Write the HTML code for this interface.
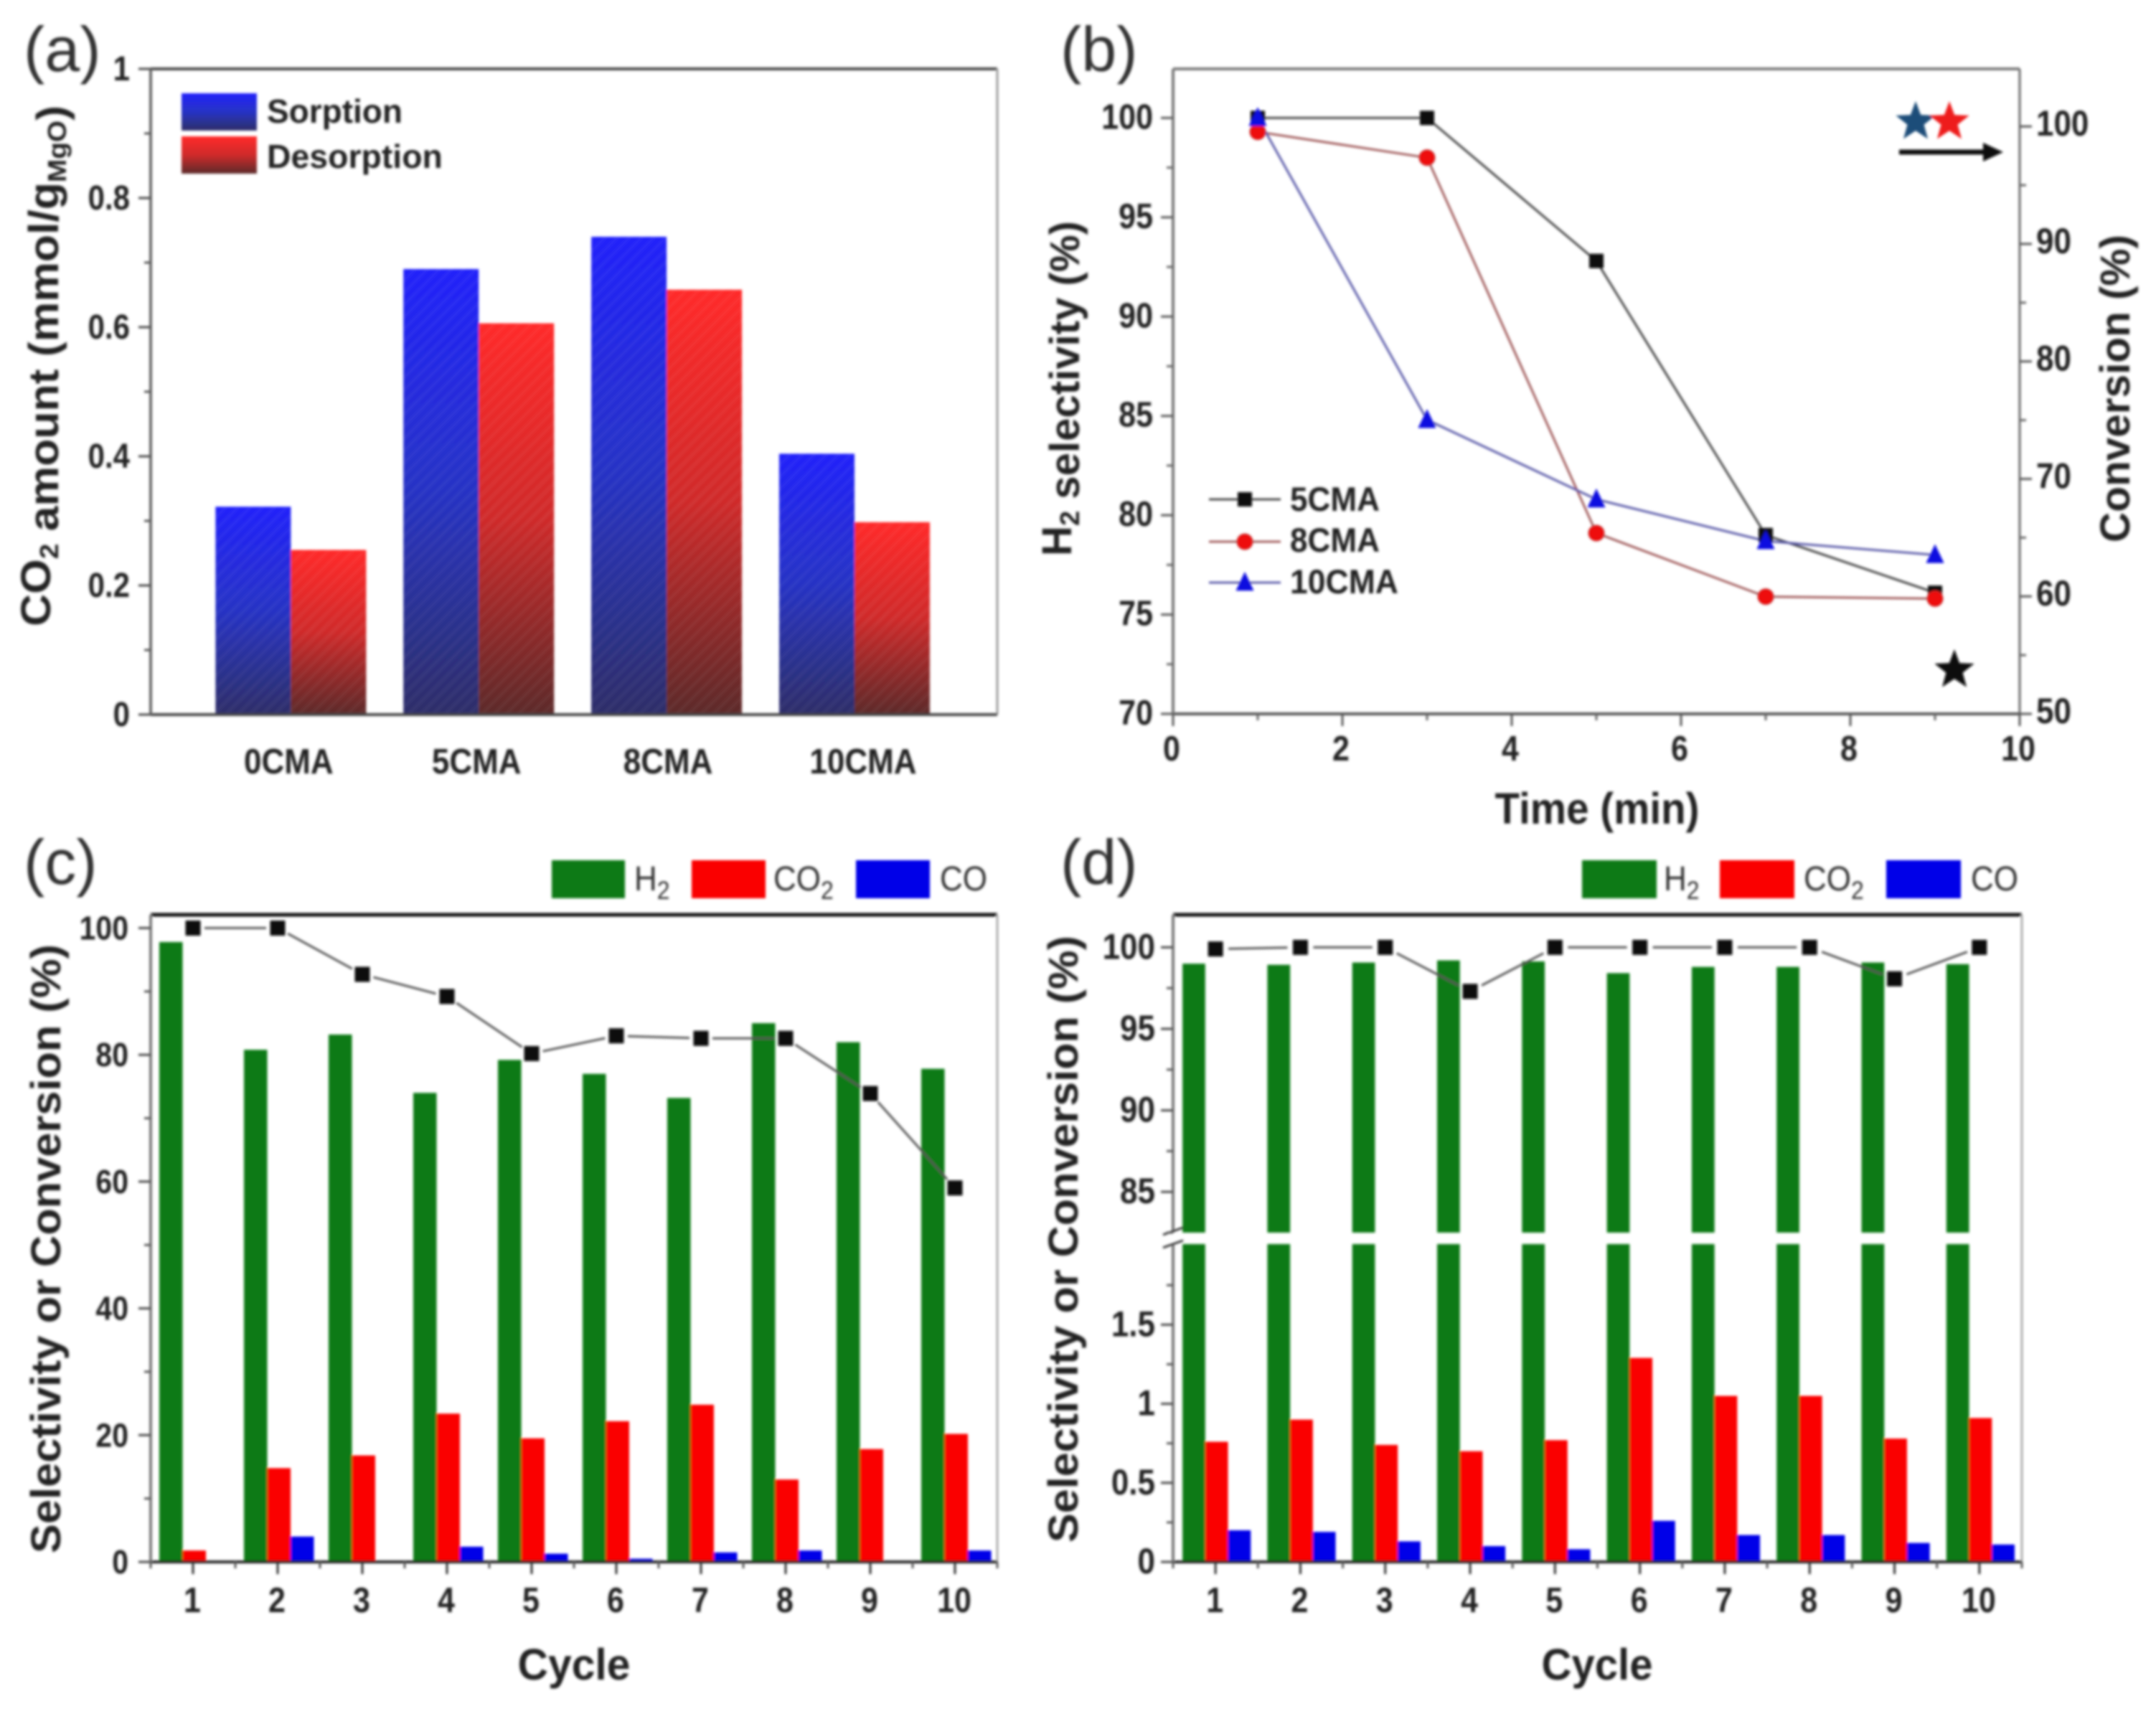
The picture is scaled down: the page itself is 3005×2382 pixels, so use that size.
<!DOCTYPE html>
<html>
<head>
<meta charset="utf-8">
<title>CO2 sorption and H2 selectivity charts</title>
<style>
html,body{margin:0;padding:0;background:#fff;width:3005px;height:2382px;overflow:hidden}
svg{display:block}
text{font-family:"Liberation Sans",sans-serif}
</style>
</head>
<body>
<svg id="figure" xmlns="http://www.w3.org/2000/svg" width="3005" height="2382" viewBox="0 0 3005 2382">
<defs>
<filter id="soft" x="0" y="0" width="100%" height="100%" filterUnits="userSpaceOnUse"><feGaussianBlur stdDeviation="1.9"/></filter>
<linearGradient id="gradBlue" x1="0" y1="0" x2="0" y2="1"><stop offset="0" stop-color="#2222fa"/><stop offset=".5" stop-color="#2733c4"/><stop offset="1" stop-color="#2e2e68"/></linearGradient>
<linearGradient id="gradRed" x1="0" y1="0" x2="0" y2="1"><stop offset="0" stop-color="#ff2a2a"/><stop offset=".5" stop-color="#cf2c2c"/><stop offset="1" stop-color="#5c2a2a"/></linearGradient>
<pattern id="hatch" width="12" height="12" patternUnits="userSpaceOnUse" patternTransform="rotate(-45)"><rect width="12" height="5" fill="#fff" opacity=".04"/></pattern>
</defs>
<g id="root" filter="url(#soft)"></g>
</svg>
<script>
// ---- Panel (a) data
const aCategories = ['0CMA','5CMA','8CMA','10CMA'];
const aSorption = [0.322,0.69,0.74,0.404];
const aDesorption = [0.255,0.606,0.658,0.298];
const aTicks = [0,0.2,0.4,0.6,0.8,1];
// ---- Panel (b) data
const bTimes = [1,3,5,7,9];
const b5CMA = [100,100,92.8,79,76.1];
const b8CMA = [99.3,98,79.1,75.9,75.8];
const b10CMA = [100,84.8,80.8,78.7,78];
const bLeftTicks = [70,75,80,85,90,95,100];
const bRightTicks = [50,60,70,80,90,100];
const bXTicks = [0,2,4,6,8,10];
// ---- Panel (c) data
const cycles = [1,2,3,4,5,6,7,8,9,10];
const cH2 = [97.8,80.8,83.2,74,79.2,77,73.2,85,82,77.8];
const cCO2 = [1.8,14.8,16.8,23.4,19.5,22.2,24.8,13,17.8,20.2];
const cCO = [0,4,0,2.4,1.3,0.5,1.5,1.8,0,1.8];
const cConversion = [100,100,92.7,89.2,80.2,83,82.6,82.6,73.9,59];
const cTicks = [0,20,40,60,80,100];
// ---- Panel (d) data
const dH2 = [99,98.93,99.07,99.2,99.14,98.42,98.8,98.8,99.07,98.97];
const dCO2 = [0.76,0.9,0.74,0.7,0.77,1.29,1.05,1.05,0.78,0.91];
const dCO = [0.2,0.19,0.13,0.1,0.08,0.26,0.17,0.17,0.12,0.11];
const dConversion = [99.9,100,100,97.3,100,100,100,100,98.07,100];
const dUpperTicks = [85,90,95,100];
const dLowerTicks = [0,0.5,1,1.5];
const dLowerLabels = ['0','0.5','1','1.5'];

const NS = 'http://www.w3.org/2000/svg';
const root = document.getElementById('root');
function scale(d0,d1,r0,r1){return v=>r0+(v-d0)*(r1-r0)/(d1-d0);}
function make(tag,attrs,parent){
  const el=document.createElementNS(NS,tag);
  for(const k in attrs){el.setAttribute(k,attrs[k]);}
  (parent||root).appendChild(el);
  return el;
}
function group(name){
  const g=make('g',{});
  
  
  return g;
}
function line(p,x1,y1,x2,y2,color,w,name){
  const el=make('line',{x1,y1,x2,y2,stroke:color,'stroke-width':w},p);
  
  
  return el;
}
function rect(p,x,y,w,h,fill,name){
  const el=make('rect',{x,y,width:w,height:h,fill},p);
  
  
  return el;
}
function poly(p,pts,fill,stroke,sw,name){
  const el=make('polyline',{points:pts.map(q=>q[0].toFixed(1)+','+q[1].toFixed(1)).join(' '),fill,stroke,'stroke-width':sw},p);
  
  
  return el;
}
function label(p,x,y,html,o,name){
  o=o||{};
  const el=make('text',{x:0,y:0,'font-size':o.fs||44,'font-weight':o.weight||'bold',fill:o.fill||'#222','text-anchor':o.anchor||'start'},p);
  el.innerHTML=html;
  
  
  let k=1;
  if(o.len){k=o.len/el.getComputedTextLength();}
  el.setAttribute('transform','translate('+x+','+y+') rotate('+(o.rot||0)+') scale('+k.toFixed(4)+','+(o.ky||1)+')');
  return el;
}
function sub(t,drop,fs){
  return '<tspan dy="'+drop+'" font-size="'+fs+'">'+t+'</tspan><tspan dy="'+(-drop)+'"></tspan>';
}
function square(p,cx,cy,s,name){return rect(p,cx-s/2,cy-s/2,s,s,'#0a0a0a',name);}
function circle(p,cx,cy,r,name){
  const el=make('circle',{cx,cy,r,fill:'#ee1111',stroke:'#b03030','stroke-width':1},p);
  
  
  return el;
}
function triangle(p,cx,cy,s,name){
  const el=make('polygon',{points:(cx)+','+(cy-s*0.6)+' '+(cx+s/2)+','+(cy+s*0.45)+' '+(cx-s/2)+','+(cy+s*0.45),fill:'#1010e0'},p);
  
  
  return el;
}
function star(p,cx,cy,R,fill,name){
  const pts=[];
  for(let i=0;i<10;i++){
    const r=i%2?R*0.42:R,a=-Math.PI/2+i*Math.PI/5;
    pts.push((cx+r*Math.cos(a)).toFixed(1)+','+(cy+r*Math.sin(a)).toFixed(1));
  }
  const el=make('polygon',{points:pts.join(' '),fill},p);
  
  
  return el;
}
function frame(p,L,T,R,B,c){
  line(p,L,T,R,T,c.top,c.topW,'frame-top');
  line(p,R,T,R,B,c.right,3,'frame-right');
  line(p,L,B,R,B,c.bottom,4,'x-axis-line');
}
function gappedLine(p,pts,gap,color,w,name){
  for(let i=0;i<pts.length-1;i++){
    const a=pts[i],b=pts[i+1],dx=b[0]-a[0],dy=b[1]-a[1],d=Math.hypot(dx,dy);
    if(d<=gap*2)continue;
    line(p,a[0]+dx/d*gap,a[1]+dy/d*gap,b[0]-dx/d*gap,b[1]-dy/d*gap,color,w,name);
  }
}
const tickFont = {fs:41,ky:1.14};

/* ========== Panel (a) ========== */
(function(){
  const g=group('panel-a');
  const L=210,R=1390,T=96,B=996;
  const x=scale(0.254,4.76,L,R), y=scale(0,1,B,T);
  label(g,33,99,'(a)',{fs:88,weight:'normal',fill:'#333'},'panel-a-label');
  const bw=105;
  const catNudge=[-3,-3,2,12];
  aCategories.forEach((c,i)=>{
    const cx=x(i+1);
    rect(g,cx-bw,y(aSorption[i]),bw,B-y(aSorption[i]),'url(#gradBlue)','sorption-bar-'+c);
    rect(g,cx,y(aDesorption[i]),bw,B-y(aDesorption[i]),'url(#gradRed)','desorption-bar-'+c);
    rect(g,cx-bw,y(aSorption[i]),bw,B-y(aSorption[i]),'url(#hatch)','sorption-hatch');
    rect(g,cx,y(aDesorption[i]),bw,B-y(aDesorption[i]),'url(#hatch)','desorption-hatch');
    label(g,cx+catNudge[i],1078,c,{fs:44,ky:1.12,anchor:'middle'},'x-category-label');
  });
  frame(g,L,T,R,B,{top:'#444',topW:4,right:'#999',bottom:'#444'});
  line(g,L,T,L,B,'#666',4,'y-axis-line');
  aTicks.forEach(v=>{
    line(g,L-17,y(v),L,y(v),'#444',3,'y-major-tick');
    label(g,181,y(v)+16,String(v),{fs:tickFont.fs+1,ky:tickFont.ky,anchor:'end'},'y-tick-label');
    if(v<1){line(g,L-9,y(v+0.1),L,y(v+0.1),'#555',3,'y-minor-tick');}
  });
  label(g,70,873,'CO'+sub('2',11,36)+' amount (mmol/g'+sub('MgO',11,36)+')',{fs:58,rot:-90,len:726},'y-axis-title');
  rect(g,253,130,105,52,'url(#gradBlue)','legend-swatch-sorption');
  rect(g,253,190,105,52,'url(#gradRed)','legend-swatch-desorption');
  label(g,372,171,'Sorption',{fs:46,len:189},'legend-label-sorption');
  label(g,372,234,'Desorption',{fs:46,len:245},'legend-label-desorption');
})();

/* ========== Panel (b) ========== */
(function(){
  const g=group('panel-b');
  const L=1635,R=2815,T=96,B=995;
  const x=scale(0,10,L,R), y=scale(70,102.47,B,T), yr=scale(50,104.9,B,T);
  label(g,1478,99,'(b)',{fs:88,weight:'normal',fill:'#333'},'panel-b-label');
  frame(g,L,T,R,B,{top:'#777',topW:4,right:'#666',bottom:'#555'});
  line(g,L,T,L,B,'#777',4,'y-axis-line');
  bLeftTicks.forEach(v=>{
    line(g,L-17,y(v),L,y(v),'#555',3,'y-major-tick');
    label(g,1607,y(v)+15,String(v),{fs:43,ky:tickFont.ky,anchor:'end'},'y-tick-label');
    if(v<100){line(g,L-9,y(v+2.5),L,y(v+2.5),'#666',3,'y-minor-tick');}
  });
  bRightTicks.forEach(v=>{
    line(g,R,yr(v),R+17,yr(v),'#555',3,'right-major-tick');
    label(g,2838,yr(v)+13,String(v),{fs:44,ky:tickFont.ky},'right-tick-label');
    if(v<100){line(g,R,yr(v+5),R+9,yr(v+5),'#666',3,'right-minor-tick');}
  });
  bXTicks.forEach(v=>{
    line(g,x(v),B,x(v),B+17,'#555',3,'x-major-tick');
    label(g,x(v)-2,1060,String(v),{fs:43,ky:tickFont.ky,anchor:'middle'},'x-tick-label');
    if(v<10){line(g,x(v+1),B,x(v+1),B+9,'#666',3,'x-minor-tick');}
  });
  poly(g,bTimes.map((t,i)=>[x(t),y(b5CMA[i])]),'none','#444',3,'line-5cma');
  poly(g,bTimes.map((t,i)=>[x(t),y(b8CMA[i])]),'none','#a05a5a',3,'line-8cma');
  poly(g,bTimes.map((t,i)=>[x(t),y(b10CMA[i])]),'none','#5a5aa8',3,'line-10cma');
  bTimes.forEach((t,i)=>{
    square(g,x(t),y(b5CMA[i]),20,'point-5cma');
  });
  bTimes.forEach((t,i)=>{
    circle(g,x(t),y(b8CMA[i]),11,'point-8cma');
  });
  bTimes.forEach((t,i)=>{
    triangle(g,x(t),y(b10CMA[i]),25,'point-10cma');
  });
  line(g,1685,696,1785,696,'#444',3,'legend-line-5cma');
  square(g,1735,696,20,'legend-marker-5cma');
  label(g,1798,712,'5CMA',{fs:43,ky:1.1,len:125},'legend-label-5cma');
  line(g,1685,755,1785,755,'#a05a5a',3,'legend-line-8cma');
  circle(g,1735,755,11,'legend-marker-8cma');
  label(g,1798,769,'8CMA',{fs:43,ky:1.1,len:125},'legend-label-8cma');
  line(g,1685,812,1785,812,'#5a5aa8',3,'legend-line-10cma');
  triangle(g,1735,812,25,'legend-marker-10cma');
  label(g,1798,827,'10CMA',{fs:43,ky:1.1,len:151},'legend-label-10cma');
  label(g,2226,1148,'Time (min)',{fs:56,ky:1.1,anchor:'middle',len:285},'x-axis-title');
  label(g,1493,775,'H'+sub('2',11,38)+' selectivity (%)',{fs:58,rot:-90,len:467},'y-axis-title');
  label(g,2968,756,'Conversion (%)',{fs:58,rot:-90,len:429},'right-axis-title');
  star(g,2670,170,29,'#1f4e79','star-blue');
  star(g,2717,170,29,'#ee1c1c','star-red');
  star(g,2724,934,29,'#0a0a0a','star-black');
  line(g,2647,212,2772,212,'#111',7,'direction-arrow-shaft');
  const head=make('polygon',{points:'2792,212 2764,199 2764,225',fill:'#111'},g);
  
  
})();

/* ========== Panel (c) ========== */
(function(){
  const g=group('panel-c');
  const L=210,R=1390,T=1275,B=2177;
  const x=scale(0.5,10.5,L,R), y=scale(0,102.1,B,T);
  label(g,33,1232,'(c)',{fs:88,weight:'normal',fill:'#333'},'panel-c-label');
  const bw=32.5,off=-47;
  cycles.forEach((c,i)=>{
    const cx=x(c);
    rect(g,cx+off,y(cH2[i]),bw,B-y(cH2[i]),'#0a7a12','bar-h2-cycle-'+c);
    rect(g,cx+off+bw,y(cCO2[i]),bw,B-y(cCO2[i]),'#fa0505','bar-co2-cycle-'+c);
    rect(g,cx+off+2*bw,y(cCO[i]),bw,B-y(cCO[i]),'#0505e8','bar-co-cycle-'+c);
  });
  frame(g,L,T,R,B,{top:'#111',topW:5,right:'#aaa',bottom:'#222'});
  line(g,L,T,L,B,'#777',4,'y-axis-line');
  cTicks.forEach(v=>{
    line(g,L-17,y(v),L,y(v),'#444',3,'y-major-tick');
    label(g,179,y(v)+16,String(v),{fs:tickFont.fs,ky:tickFont.ky,anchor:'end'},'y-tick-label');
    if(v<100){line(g,L-9,y(v+10),L,y(v+10),'#555',3,'y-minor-tick');}
  });
  cycles.forEach(c=>{
    line(g,x(c),B,x(c),B+17,'#333',3,'x-major-tick');
    line(g,x(c-0.5),B,x(c-0.5),B+9,'#555',3,'x-minor-tick');
    label(g,x(c)-1,2247,String(c),{fs:43,ky:tickFont.ky,anchor:'middle'},'x-tick-label');
  });
  line(g,x(10.5),B,x(10.5),B+9,'#555',3,'x-minor-tick');
  const pts=cycles.map((c,i)=>[x(c),y(cConversion[i])]);
  gappedLine(g,pts,16,'#555',3,'conversion-line-segment');
  pts.forEach(q=>{
    square(g,q[0],q[1],21,'conversion-point');
  });
  rect(g,769,1199,102,53,'#0a7a12','legend-swatch-h2');
  rect(g,964,1199,103,53,'#fa0505','legend-swatch-co2');
  rect(g,1193,1199,103,53,'#0505e8','legend-swatch-co');
  label(g,884,1241,'H'+sub('2',11,32),{fs:44,ky:1.1,weight:'normal',fill:'#333'},'legend-label-h2');
  label(g,1078,1241,'CO'+sub('2',11,32),{fs:44,ky:1.1,weight:'normal',fill:'#333'},'legend-label-co2');
  label(g,1310,1241,'CO',{fs:44,ky:1.1,weight:'normal',fill:'#333'},'legend-label-co');
  label(g,800,2341,'Cycle',{fs:56,ky:1.1,anchor:'middle',len:157},'x-axis-title');
  label(g,84,2165,'Selectivity or Conversion (%)',{fs:58,rot:-90,len:849},'y-axis-title');
})();

/* ========== Panel (d) ========== */
(function(){
  const g=group('panel-d');
  const L=1635,R=2818,T=1275,B=2177;
  const x=scale(0.5,10.5,L,R);
  const BREAK_TOP=1718,BREAK_BOTTOM=1734;
  const yLow=scale(0,2.01,B,BREAK_BOTTOM), yUp=scale(82.5,102,BREAK_TOP,T);
  const yAny=v=>v<=2?yLow(v):yUp(v);
  label(g,1478,1232,'(d)',{fs:88,weight:'normal',fill:'#333'},'panel-d-label');
  const bw=31.7,off=-46;
  cycles.forEach((c,i)=>{
    const cx=x(c);
    rect(g,cx+off,BREAK_BOTTOM,bw,B-BREAK_BOTTOM,'#0a7a12','bar-h2-lower-cycle-'+c);
    rect(g,cx+off,yUp(dH2[i]),bw,BREAK_TOP-yUp(dH2[i]),'#0a7a12','bar-h2-upper-cycle-'+c);
    rect(g,cx+off+bw,yLow(dCO2[i]),bw,B-yLow(dCO2[i]),'#fa0505','bar-co2-cycle-'+c);
    rect(g,cx+off+2*bw,yLow(dCO[i]),bw,B-yLow(dCO[i]),'#0505e8','bar-co-cycle-'+c);
  });
  frame(g,L,T,R,B,{top:'#111',topW:5,right:'#aaa',bottom:'#222'});
  line(g,L,T,L,BREAK_TOP,'#777',4,'y-axis-line-upper');
  line(g,L,BREAK_BOTTOM,L,B,'#777',4,'y-axis-line-lower');
  line(g,L-14,BREAK_TOP+3,L+14,BREAK_TOP-7,'#333',3,'axis-break-mark-top');
  line(g,L-14,BREAK_BOTTOM+5,L+14,BREAK_BOTTOM-5,'#333',3,'axis-break-mark-bottom');
  dUpperTicks.forEach(v=>{
    line(g,L-17,yUp(v),L,yUp(v),'#444',3,'y-major-tick');
    label(g,1610,yUp(v)+16,String(v),{fs:44,ky:tickFont.ky,anchor:'end'},'y-tick-label');
    if(v<100){line(g,L-9,yUp(v+2.5),L,yUp(v+2.5),'#555',3,'y-minor-tick');}
  });
  line(g,L-9,yUp(82.5),L,yUp(82.5),'#555',3,'y-minor-tick');
  dLowerTicks.forEach((v,i)=>{
    line(g,L-17,yLow(v),L,yLow(v),'#444',3,'y-major-tick');
    label(g,1610,yLow(v)+16,dLowerLabels[i],{fs:44,ky:tickFont.ky,anchor:'end'},'y-tick-label');
    line(g,L-9,yLow(v+0.25),L,yLow(v+0.25),'#555',3,'y-minor-tick');
  });
  cycles.forEach(c=>{
    line(g,x(c),B,x(c),B+17,'#333',3,'x-major-tick');
    line(g,x(c-0.5),B,x(c-0.5),B+9,'#555',3,'x-minor-tick');
    label(g,x(c)-1,2247,String(c),{fs:43,ky:tickFont.ky,anchor:'middle'},'x-tick-label');
  });
  line(g,x(10.5),B,x(10.5),B+9,'#555',3,'x-minor-tick');
  const pts=cycles.map((c,i)=>[x(c),yAny(dConversion[i])]);
  gappedLine(g,pts,18,'#555',3,'conversion-line-segment');
  pts.forEach(q=>{
    square(g,q[0],q[1],21,'conversion-point');
  });
  rect(g,2205,1199,104,53,'#0a7a12','legend-swatch-h2');
  rect(g,2397,1199,104,53,'#fa0505','legend-swatch-co2');
  rect(g,2629,1199,104,53,'#0505e8','legend-swatch-co');
  label(g,2319,1241,'H'+sub('2',11,32),{fs:44,ky:1.1,weight:'normal',fill:'#333'},'legend-label-h2');
  label(g,2514,1241,'CO'+sub('2',11,32),{fs:44,ky:1.1,weight:'normal',fill:'#333'},'legend-label-co2');
  label(g,2747,1241,'CO',{fs:44,ky:1.1,weight:'normal',fill:'#333'},'legend-label-co');
  label(g,2226,2341,'Cycle',{fs:56,ky:1.1,anchor:'middle',len:155},'x-axis-title');
  label(g,1502,2150,'Selectivity or Conversion (%)',{fs:58,rot:-90,len:846},'y-axis-title');
})();
</script>
</body>
</html>
